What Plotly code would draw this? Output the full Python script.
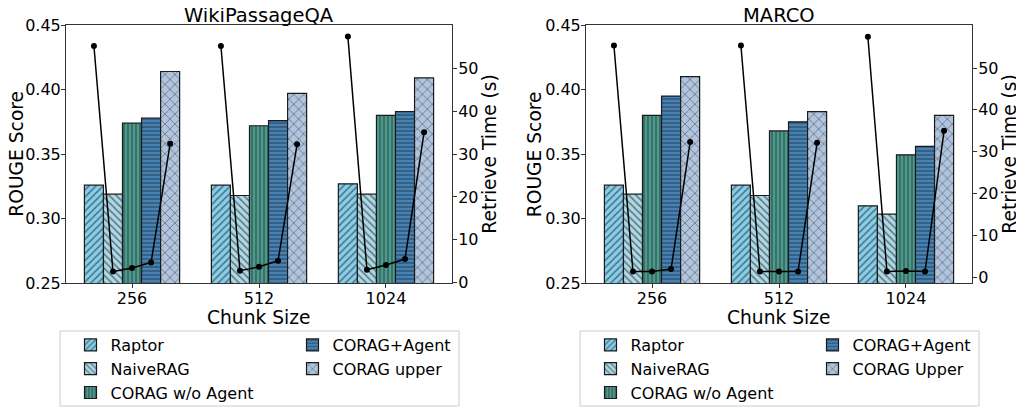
import plotly.graph_objects as go
import numpy as np

# ---------------- data ----------------
chunk_sizes = ["256", "512", "1024"]
methods_wiki = ["Raptor", "NaiveRAG", "CORAG w/o Agent", "CORAG+Agent", "CORAG upper"]
methods_marco = ["Raptor", "NaiveRAG", "CORAG w/o Agent", "CORAG+Agent", "CORAG Upper"]

# ROUGE scores (rows follow chunk sizes)
wiki_raptor = [0.326, 0.326, 0.327]
wiki_naive = [0.319, 0.318, 0.319]
wiki_wo_agent = [0.374, 0.372, 0.380]
wiki_agent = [0.378, 0.376, 0.383]
wiki_upper = [0.414, 0.397, 0.409]

marco_raptor = [0.326, 0.326, 0.310]
marco_naive = [0.319, 0.318, 0.3035]
marco_wo_agent = [0.380, 0.368, 0.3495]
marco_agent = [0.395, 0.375, 0.356]
marco_upper = [0.410, 0.383, 0.380]

# Retrieve time (s) per chunk size, methods in order above
wiki_time_256 = [55.2, 2.6, 3.4, 4.7, 32.4]
wiki_time_512 = [55.2, 2.8, 3.7, 5.1, 32.3]
wiki_time_1024 = [57.4, 3.0, 4.1, 5.5, 35.1]

marco_time_256 = [55.4, 1.3, 1.3, 1.9, 32.3]
marco_time_512 = [55.4, 1.3, 1.3, 1.3, 32.1]
marco_time_1024 = [57.5, 1.3, 1.45, 1.3, 35.0]

time_ticks = [0, 10, 20, 30, 40, 50]

# ---------------- styles ----------------
colors = ["#87CEEB", "#ADD8E6", "#4C998E", "#4682B4", "#B0C4DE"]
shapes = ["/", "\\", "|", "-", "x"]
psizes = [5, 5, 4, 4, 7]
psolid = [0.3, 0.3, 0.3, 0.3, 0.2]
FONT = "DejaVu Sans"
# the page places the figure 8px in from the window's top-left corner
OFF = 8
W, H = 1024, 412
BAR_W = 0.15
AX_COLOR = "#333333"
LABEL_SIZE = 18.67


def px_x(p):
    return (p - OFF) / W


def px_y(p):
    return 1 - (p - OFF) / H


fig = go.Figure()

panels = [
    dict(rouge=[wiki_raptor, wiki_naive, wiki_wo_agent, wiki_agent, wiki_upper],
         times=[wiki_time_256, wiki_time_512, wiki_time_1024],
         names=methods_wiki, xa="x", ya="y", ya2="y2",
         legs=["legend", "legend2"]),
    dict(rouge=[marco_raptor, marco_naive, marco_wo_agent, marco_agent, marco_upper],
         times=[marco_time_256, marco_time_512, marco_time_1024],
         names=methods_marco, xa="x2", ya="y3", ya2="y4",
         legs=["legend3", "legend4"]),
]

idx = np.arange(len(chunk_sizes))
offsets = (np.arange(5) - 2) * BAR_W

for p in panels:
    for i, name in enumerate(p["names"]):
        fig.add_trace(go.Bar(
            x=idx + offsets[i], y=p["rouge"][i], width=BAR_W, name=name,
            xaxis=p["xa"], yaxis=p["ya"],
            legend=p["legs"][0] if i < 3 else p["legs"][1],
            marker=dict(color=colors[i],
                        line=dict(color="#1a1a1a", width=1.2),
                        pattern=dict(shape=shapes[i], fgcolor="#111111",
                                     size=psizes[i], solidity=psolid[i])),
        ))
    lx, ly = [], []
    for g, t in enumerate(p["times"]):
        lx += list(g + offsets) + [None]
        ly += list(t) + [None]
    fig.add_trace(go.Scatter(
        x=lx, y=ly, mode="lines+markers", xaxis=p["xa"], yaxis=p["ya2"],
        line=dict(color="black", width=1.5), marker=dict(color="black", size=6),
        showlegend=False, connectgaps=False,
    ))

tickfont = dict(family=FONT, size=16, color="black")

ydom = [px_y(283.3), px_y(25)]
xdom1 = [px_x(66), px_x(452)]
xdom2 = [px_x(586), px_x(972)]

common_axis = dict(showline=True, linecolor=AX_COLOR, linewidth=1, ticks="outside",
                   ticklen=4, tickwidth=1, tickcolor=AX_COLOR, showgrid=False,
                   zeroline=False, tickfont=tickfont, automargin=False)

xcommon = dict(common_axis, range=[-0.52, 2.52], tickvals=list(idx), ticktext=chunk_sizes,
               ticklabelstandoff=-4, mirror=True)
ycommon = dict(common_axis, range=[0.25, 0.45], dtick=0.05, tickformat=".2f",
               ticklabelstandoff=-3, domain=ydom)
y2common = dict(common_axis, side="right", tickvals=time_ticks, ticklabelstandoff=-2)

fig.update_layout(
    width=W, height=H, autosize=False,
    margin=dict(l=0, r=0, t=0, b=0, autoexpand=False),
    paper_bgcolor="white", plot_bgcolor="white",
    font=dict(family=FONT, size=16, color="black"),
    barmode="overlay",
    xaxis=dict(xcommon, domain=xdom1, anchor="y"),
    yaxis=dict(ycommon, anchor="x"),
    yaxis2=dict(y2common, overlaying="y", anchor="x", range=[-0.15, 60.1]),
    xaxis2=dict(xcommon, domain=xdom2, anchor="y3"),
    yaxis3=dict(ycommon, anchor="x2"),
    yaxis4=dict(y2common, overlaying="y3", anchor="x2", range=[-1.5, 60.3]),
    showlegend=True,
)

leg_common = dict(orientation="v", bgcolor="rgba(0,0,0,0)", borderwidth=0,
                  font=dict(family=FONT, size=16, color="black"),
                  xanchor="left", yanchor="top", tracegroupgap=0,
                  itemclick=False, itemdoubleclick=False)
leg_top = px_y(328)
fig.update_layout(
    legend=dict(leg_common, x=px_x(70.5), y=leg_top),
    legend2=dict(leg_common, x=px_x(292.5), y=leg_top),
    legend3=dict(leg_common, x=px_x(590.5), y=leg_top),
    legend4=dict(leg_common, x=px_x(812.5), y=leg_top),
)

# legend frames
for x0, x1 in [(60, 459), (580, 979)]:
    fig.add_shape(type="rect", xref="paper", yref="paper",
                  x0=px_x(x0), x1=px_x(x1), y0=px_y(406), y1=px_y(331),
                  line=dict(color="#cccccc", width=1), fillcolor="rgba(0,0,0,0)",
                  layer="below")


def add_text(txt, x, y, size, angle=0):
    fig.add_annotation(text=txt, xref="paper", yref="paper", x=px_x(x), y=px_y(y),
                       xanchor="center", yanchor="middle", showarrow=False,
                       textangle=angle, borderpad=0,
                       font=dict(family=FONT, size=size, color="black"))


# panel titles
add_text("WikiPassageQA", 259, 15.8, 19.5)
add_text("MARCO", 779, 15.8, 19.5)
# axis titles
for cx, left_x, right_x in [(259, 16.5, 489.5), (779, 534, 1009.5)]:
    add_text("Chunk Size", cx, 317.5, LABEL_SIZE)
    add_text("ROUGE Score", left_x, 154.2, LABEL_SIZE, -90)
    add_text("Retrieve Time (s)", right_x, 154.2, LABEL_SIZE, -90)

fig.write_html("out.html")
